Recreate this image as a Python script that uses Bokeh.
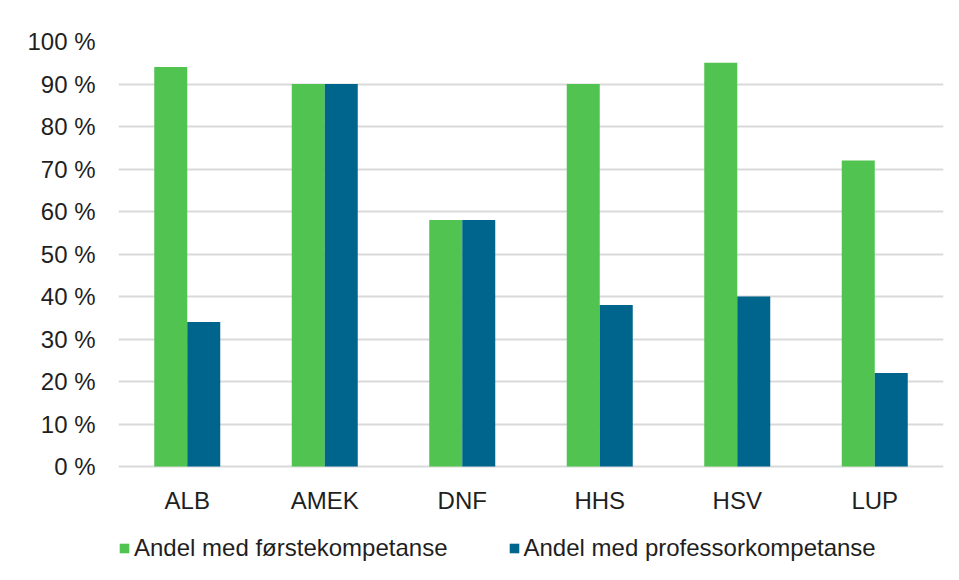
from bokeh.plotting import figure
from bokeh.models import FactorRange, Range1d, Legend, LegendItem, ColumnDataSource, FixedTicker
from bokeh.transform import dodge
from bokeh.embed import file_html
from bokeh.resources import INLINE

categories = ["ALB", "AMEK", "DNF", "HHS", "HSV", "LUP"]
forste = [94, 90, 58, 90, 95, 72]
professor = [34, 90, 58, 38, 40, 22]
series_names = ["Andel med førstekompetanse", "Andel med professorkompetanse"]
y_ticks = [0, 10, 20, 30, 40, 50, 60, 70, 80, 90, 100]

GREEN = "#50C350"
BLUE = "#00658D"
FONT = "Liberation Sans"
TXT = "#1f1f1f"

src = ColumnDataSource(data=dict(cat=categories, forste=forste, professor=professor))

# frame spans from y=41 (100 %) to y=572; 0 % sits at y=466 (4.25 px per unit)
p = figure(x_range=FactorRange(*categories), y_range=Range1d(-106 / 4.25, 100),
           width=957, height=578, output_backend="svg", toolbar_location=None,
           min_border_left=118, min_border_right=14, min_border_top=41, min_border_bottom=6)
p.outline_line_color = None

r1 = p.vbar(x=dodge("cat", -0.12, range=p.x_range), top="forste", width=0.24, source=src,
            fill_color=GREEN, line_color=None)
r2 = p.vbar(x=dodge("cat", 0.12, range=p.x_range), top="professor", width=0.24, source=src,
            fill_color=BLUE, line_color=None)

p.xgrid.grid_line_color = None
p.ygrid.grid_line_color = "#d9d9d9"
p.ygrid.grid_line_width = 2
p.yaxis.ticker = FixedTicker(ticks=y_ticks)
p.yaxis.major_label_overrides = {t: f"{t} %" for t in y_ticks}
p.xaxis.fixed_location = 0

for ax in (p.xaxis[0], p.yaxis[0]):
    ax.axis_line_color = None
    ax.major_tick_line_color = None
    ax.minor_tick_line_color = None
    ax.major_label_text_font = FONT
    ax.major_label_text_font_size = "24px"
    ax.major_label_text_color = TXT
p.yaxis.major_label_standoff = 17
p.xaxis.major_label_standoff = 14

legend = Legend(items=[LegendItem(label=series_names[0], renderers=[r1]),
                       LegendItem(label=series_names[1], renderers=[r2])],
                orientation="horizontal", location=(0, 10))
legend.label_text_font = FONT
legend.label_text_font_size = "24px"
legend.label_text_color = TXT
legend.glyph_width = 12
legend.glyph_height = 12
legend.label_standoff = 4
legend.spacing = 60
legend.padding = 0
legend.margin = 0
legend.border_line_color = None
legend.background_fill_alpha = 0
p.add_layout(legend, "center")

open("out.html", "w").write(file_html(p, INLINE))
